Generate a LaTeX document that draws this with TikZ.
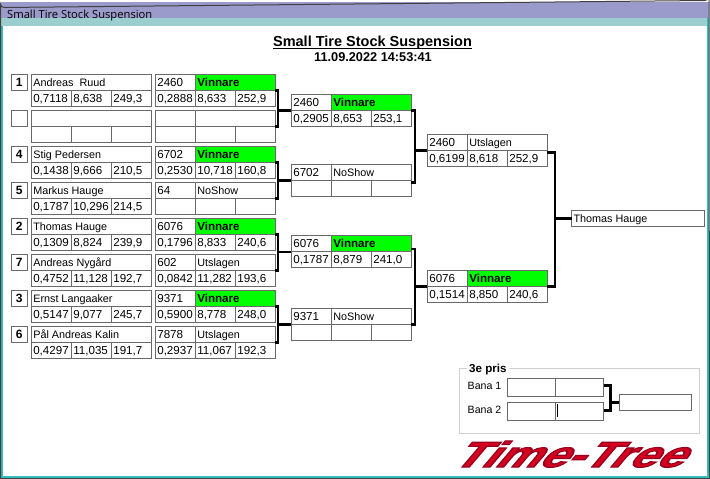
\documentclass[tikz,border=0pt]{standalone}
\usepackage{fontspec}
\setmainfont{Liberation Sans}
\newfontfamily\titlefont{Open Sans}
\newfontfamily\logofont{Liberation Sans}[BoldFont={Liberation Sans Bold}]
\definecolor{cellline}{HTML}{696969}
\definecolor{barpurple}{HTML}{9B9BCB}
\definecolor{barteal}{HTML}{9BCECE}
\definecolor{edgeteal}{HTML}{35BDBD}
\definecolor{framegray}{HTML}{CFCFCF}
\definecolor{logored}{HTML}{D4001E}
\tikzset{
  x=1pt,y=-1pt,
  outerbox/.style={draw=cellline,line width=1.3pt,inner sep=0pt,outer sep=0pt,minimum width=#1,minimum height=32pt},
  cell/.style={draw=cellline,line width=1.3pt},
  seedbox/.style={draw=cellline,line width=1.3pt,inner sep=0pt,outer sep=0pt,minimum width=16pt,minimum height=16pt,font=\fontsize{12}{14}\selectfont\bfseries,text height=9pt,text depth=0pt},
  lbl/.style={anchor=base west,inner sep=0pt,outer sep=0pt,font=\fontsize{10.8}{13}\selectfont},
  num/.style={anchor=base west,inner sep=0pt,outer sep=0pt,font=\fontsize{11.6}{13}\selectfont},
  win/.style={anchor=base west,inner sep=0pt,outer sep=0pt,font=\fontsize{11.6}{13}\selectfont\bfseries},
  conn/.style={draw=black,line width=2.4pt,line cap=butt,line join=miter},
  plainbox/.style={draw=cellline,line width=1.3pt,inner sep=0pt,outer sep=0pt}
}
% name, x, y, top text, a, b, c
\newcommand{\namebox}[7]{
  \node[outerbox=120pt] (#1) at (#2+60,#3+16) {};
  \draw[cell] (#1.west) -- (#1.east);
  \draw[cell] (#2+40,#3+16) -- (#2+40,#3+32);
  \draw[cell] (#2+80,#3+16) -- (#2+80,#3+32);
  \node[lbl] (#1n) at (#2+2,#3+12) {#4};
  \node[num] (#1a) at (#2+2,#3+28) {#5};
  \node[num] (#1b) at (#2+42,#3+28) {#6};
  \node[num] (#1c) at (#2+82,#3+28) {#7};
}
% name, x, y, id, status, a, b, c
\newcommand{\runbox}[8]{
  \node[outerbox=120pt] (#1) at (#2+60,#3+16) {};
  \draw[cell] (#1.west) -- (#1.east);
  \draw[cell] (#2+40,#3) -- (#2+40,#3+32);
  \draw[cell] (#2+80,#3+16) -- (#2+80,#3+32);
  \node[num] (#1i) at (#2+2,#3+12) {#4};
  \node[lbl] (#1s) at (#2+42,#3+12) {#5};
  \node[num] (#1a) at (#2+2,#3+28) {#6};
  \node[num] (#1b) at (#2+42,#3+28) {#7};
  \node[num] (#1c) at (#2+82,#3+28) {#8};
}
% same with the green Vinnare cell
\newcommand{\winbox}[7]{
  \fill[green] (#2+40,#3) rectangle (#2+120,#3+16);
  \node[outerbox=120pt] (#1) at (#2+60,#3+16) {};
  \draw[cell] (#1.west) -- (#1.east);
  \draw[cell] (#2+40,#3) -- (#2+40,#3+32);
  \draw[cell] (#2+80,#3+16) -- (#2+80,#3+32);
  \node[num] (#1i) at (#2+2,#3+12) {#4};
  \node[win] (#1s) at (#2+42,#3+12) {Vinnare};
  \node[num] (#1a) at (#2+2,#3+28) {#5};
  \node[num] (#1b) at (#2+42,#3+28) {#6};
  \node[num] (#1c) at (#2+82,#3+28) {#7};
}
\begin{document}
\begin{tikzpicture}
\useasboundingbox (0,0) rectangle (710,479);
% window
\fill[white] (0,0) rectangle (710,479);
\fill[barpurple] (1,2) rectangle (708.5,18);
\fill[barteal] (1,18) rectangle (708.5,26);
\fill[edgeteal] (1,26) rectangle (3,478);
\fill[edgeteal] (707,18) rectangle (709,478);
\fill[edgeteal] (1,476) rectangle (709,478);
\draw[black!75,line width=1pt] (0.5,478.5) -- (0.5,4) arc[start angle=180,end angle=90,radius=3.5] -- (705,0.5) arc[start angle=90,end angle=0,radius=4] -- (709.5,478.5) -- cycle;
\node[anchor=base west,inner sep=0pt,font=\titlefont\fontsize{11.2}{13}\selectfont] (wintitle) at (7,19) {Small Tire Stock Suspension};
% heading
\node[anchor=base,inner sep=0pt,font=\fontsize{14.5}{16}\selectfont\bfseries] (head) at (372.5,46) {Small Tire Stock Suspension};
\draw[black,line width=1.2pt] ([yshift=-2.2pt]head.base west) -- ([yshift=-2.2pt]head.base east);
\node[anchor=base,inner sep=0pt,font=\fontsize{12.75}{14}\selectfont\bfseries] (stamp) at (373,61) {11.09.2022 14:53:41};
% seeds
\node[seedbox] (s1) at (19.3,82.3) {1};
\node[seedbox] (s2) at (19.3,118.3) {};
\node[seedbox] (s3) at (19.3,154.3) {4};
\node[seedbox] (s4) at (19.3,190.3) {5};
\node[seedbox] (s5) at (19.3,226.3) {2};
\node[seedbox] (s6) at (19.3,262.3) {7};
\node[seedbox] (s7) at (19.3,298.3) {3};
\node[seedbox] (s8) at (19.3,334.3) {6};
% drivers
\namebox{d1}{31.3}{74.3}{Andreas\ \ Ruud}{0,7118}{8,638}{249,3}
\namebox{d2}{31.3}{110.3}{}{}{}{}
\namebox{d3}{31.3}{146.3}{Stig Pedersen}{0,1438}{9,666}{210,5}
\namebox{d4}{31.3}{182.3}{Markus Hauge}{0,1787}{10,296}{214,5}
\namebox{d5}{31.3}{218.3}{Thomas Hauge}{0,1309}{8,824}{239,9}
\namebox{d6}{31.3}{254.3}{Andreas Nygård}{0,4752}{11,128}{192,7}
\namebox{d7}{31.3}{290.3}{Ernst Langaaker}{0,5147}{9,077}{245,7}
\namebox{d8}{31.3}{326.3}{Pål Andreas Kalin}{0,4297}{11,035}{191,7}
% first round
\winbox{a1}{155.3}{74.3}{2460}{0,2888}{8,633}{252,9}
\runbox{a2}{155.3}{110.3}{}{}{}{}{}
\winbox{a3}{155.3}{146.3}{6702}{0,2530}{10,718}{160,8}
\runbox{a4}{155.3}{182.3}{64}{NoShow}{}{}{}
\winbox{a5}{155.3}{218.3}{6076}{0,1796}{8,833}{240,6}
\runbox{a6}{155.3}{254.3}{602}{Utslagen}{0,0842}{11,282}{193,6}
\winbox{a7}{155.3}{290.3}{9371}{0,5900}{8,778}{248,0}
\runbox{a8}{155.3}{326.3}{7878}{Utslagen}{0,2937}{11,067}{192,3}
% second round
\winbox{b1}{291.3}{94.3}{2460}{0,2905}{8,653}{253,1}
\runbox{b2}{291.3}{164.3}{6702}{NoShow}{}{}{}
\winbox{b3}{291.3}{235.8}{6076}{0,1787}{8,879}{241,0}
\runbox{b4}{291.3}{308.3}{9371}{NoShow}{}{}{}
% third round
\runbox{c1}{427.3}{134.3}{2460}{Utslagen}{0,6199}{8,618}{252,9}
\winbox{c2}{427.3}{270.3}{6076}{0,1514}{8,850}{240,6}
% final
\node[plainbox,minimum width=132.5pt,minimum height=16pt] (final) at (638,218.5) {};
\node[lbl] (finalname) at (573.5,222) {Thomas Hauge};
% junction columns
\coordinate (j1) at (278,0);
\coordinate (j2) at (415,0);
\coordinate (j3) at (555,0);
\coordinate (j4) at (610.5,0);
\coordinate (b2p) at ([yshift=-2pt]b2.east);
\coordinate (b3p) at ([yshift=3pt]b3.east);
\coordinate (c1p) at ([yshift=-2pt]c1.east);
\draw[conn] (a1.east) -| (j1 |- a2.east) -- (a2.east);
\draw[conn] (b1.west) -- (j1 |- b1.west);
\draw[conn] (a3.east) -| (j1 |- a4.east) -- (a4.east);
\draw[conn] (b2.west) -- (j1 |- b2.west);
\draw[conn] (a5.east) -| (j1 |- a6.east) -- (a6.east);
\draw[conn] (b3.west) -- (j1 |- b3.west);
\draw[conn] (a7.east) -| (j1 |- a8.east) -- (a8.east);
\draw[conn] (b4.west) -- (j1 |- b4.west);
\draw[conn] (b1.east) -| (j2 |- b2p) -- (b2p);
\draw[conn] (c1.west) -- (j2 |- c1.west);
\draw[conn] (b3p) -| (j2 |- b4.east) -- (b4.east);
\draw[conn] (c2.west) -- (j2 |- c2.west);
\draw[conn] (c1p) -| (j3 |- c2.east) -- (c2.east);
\draw[conn] (final.west) -- (j3 |- final.west);
% third prize
\draw[framegray,line width=1pt] (459,368) rectangle (699.5,433);
\node[anchor=base west,fill=white,inner xsep=2pt,inner ysep=1pt,font=\fontsize{11.6}{13}\selectfont\bfseries] (prize) at (467,372.5) {3e pris};
\node[anchor=base west,inner sep=0pt,font=\fontsize{10.6}{13}\selectfont] (bana1) at (467.5,389) {Bana 1};
\node[anchor=base west,inner sep=0pt,font=\fontsize{10.6}{13}\selectfont] (bana2) at (467.5,413) {Bana 2};
\node[plainbox,minimum width=96pt,minimum height=18pt] (p1) at (555.5,387.3) {};
\node[plainbox,minimum width=96pt,minimum height=18pt] (p2) at (555.5,411.3) {};
\draw[cell] (p1.north) -- (p1.south);
\draw[cell] (p2.north) -- (p2.south);
\draw[black,line width=1pt] (557.5,404) -- (557.5,417);
\node[plainbox,minimum width=72pt,minimum height=16pt] (p3) at (655.3,402.3) {};
\coordinate (p1p) at ([yshift=2pt]p1.east);
\coordinate (p2p) at ([yshift=1pt]p2.east);
\draw[conn] (p1p) -| (j4 |- p2p) -- (p2p);
\draw[conn] (p3.west) -- (j4 |- p3.west);
% logo
\node[anchor=base,inner sep=0pt,xslant=0.85,xscale=1.36,transform shape,text=logored,font=\logofont\fontsize{36}{40}\selectfont\bfseries] (logo) at (566,467)
  {\special{pdf:literal 2 Tr 1.3 w 0.6 0 0.12 RG}Time-Tree\special{pdf:literal 0 Tr 0 0 0 RG}};
\end{tikzpicture}
\end{document}
